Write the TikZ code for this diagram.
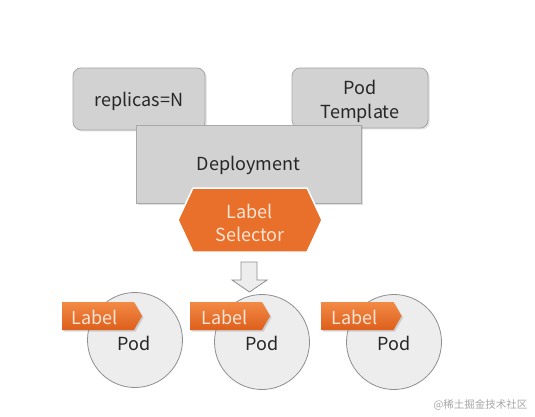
\documentclass[tikz,border=0pt]{standalone}
\usepackage{fontspec}
\setmainfont{Noto Sans CJK SC}
\usetikzlibrary{shapes.symbols,shadows}
\definecolor{boxfill}{HTML}{D2D2D2}
\definecolor{boxline}{HTML}{A8A8A8}
\definecolor{orng}{HTML}{E8702A}
\definecolor{orngtop}{HTML}{F28A45}
\definecolor{orngbot}{HTML}{DD5F1C}
\definecolor{lbltext}{HTML}{FCE4D6}
\definecolor{podfill}{HTML}{EDEDED}
\definecolor{podline}{HTML}{8E8E8E}
\definecolor{txt}{HTML}{262626}
\tikzset{
  greybox/.style={draw=boxline, fill=boxfill, line width=0.8pt, text=txt,
    align=center, inner sep=0pt, font=\fontsize{18}{24}\selectfont,
    drop shadow={opacity=0.25, shadow xshift=1.5pt, shadow yshift=-1.5pt}},
  selector/.style={signal, signal to=east and west, signal pointer angle=130,
    fill=orng, draw=white, line width=1.5pt, text=lbltext, align=center,
    inner sep=0pt, minimum width=144pt, minimum height=64pt,
    font=\fontsize{18}{23}\selectfont},
  podcircle/.style={circle, draw=podline, fill=podfill, line width=0.8pt,
    minimum size=95pt, inner sep=0pt, text=txt, font=\fontsize{18}{20}\selectfont},
  lbltag/.style={signal, signal to=east, signal pointer angle=120,
    top color=orngtop, bottom color=orngbot, draw=none, text=lbltext,
    inner sep=0pt, minimum width=80pt, minimum height=28pt,
    font=\fontsize{18}{20}\selectfont,
    drop shadow={opacity=0.3, shadow xshift=1.5pt, shadow yshift=-1.5pt}},
  blockarrow/.style={fill=podfill, draw=podline, line width=0.8pt, line join=miter}
}
\begin{document}
\begin{tikzpicture}[x=1pt,y=-1pt]
\useasboundingbox[fill=white] (0,0) rectangle (535,417);
\node[greybox, rounded corners=8pt, minimum width=132pt, minimum height=62pt, text depth=0pt] (replicas) at (139,99) {};
\node (reptext) at (139,101) [text=txt, font=\fontsize{18}{24}\selectfont, inner sep=0pt] {replicas=N};
\node[greybox, rounded corners=8pt, minimum width=136pt, minimum height=60pt] (template) at (360,98) {};
\node (temptext) at (360,101) [text=txt, align=center, font=\fontsize{18}{24}\selectfont, inner sep=0pt] {Pod\\Template};
\node[greybox, minimum width=225pt, minimum height=78pt] (deploy) at (248.5,164) {};
\node (deptext) at (248.5,165) [text=txt, font=\fontsize{18}{24}\selectfont, inner sep=0pt] {Deployment};
\node[selector] (selector) at (250,220) {};
\node (seltext) at (250,223) [text=lbltext, align=center, font=\fontsize{18}{23}\selectfont, inner sep=0pt] {Label\\Selector};
\draw[blockarrow] (241,262) -- (257,262) -- (257,280) -- (267,280) -- (249.5,292) -- (232,280) -- (241,280) -- cycle;
\node[podcircle] (pod1) at (135,340) {};
\node[podcircle] (pod2) at (262,342) {};
\node[podcircle] (pod3) at (394,342) {};
\foreach \x/\n in {134/1, 262/2, 394/3} {
  \node (podtext\n) at (\x,343) [text=txt, font=\fontsize{18}{20}\selectfont, inner sep=0pt] {Pod};
}
\node[lbltag] (label1) at (98,316) {};
\node[lbltag] (label2) at (226,316) {};
\node[lbltag] (label3) at (357.5,316) {};
\foreach \x/\n in {95/1, 225/2, 355/3} {
  \node (lbltext\n) at (\x,317) [text=lbltext, font=\fontsize{18}{20}\selectfont, inner sep=0pt] {Label};
}
\node[text=black!35, font=\fontsize{10.5}{12}\selectfont, anchor=east] (mark) at (531,405) {@稀土掘金技术社区};
\end{tikzpicture}
\end{document}
